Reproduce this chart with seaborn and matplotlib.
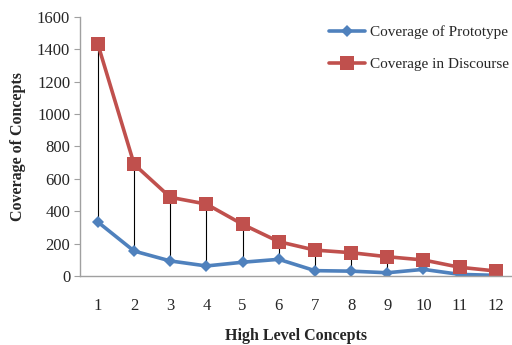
import matplotlib
matplotlib.use("Agg")
import matplotlib.pyplot as plt
import seaborn as sns
import pandas as pd

concepts = list(range(1, 13))
prototype = [333, 154, 93, 62, 85, 103, 33, 30, 20, 41, 10, 4]
discourse = [1430, 690, 486, 444, 319, 212, 160, 144, 119, 99, 54, 31]
series_names = ["Coverage of Prototype", "Coverage in Discourse"]

df = pd.DataFrame({
    "concept": concepts * 2,
    "value": prototype + discourse,
    "series": [series_names[0]] * 12 + [series_names[1]] * 12,
})

sns.set_style("white")
plt.rcParams["font.family"] = ["Liberation Serif", "DejaVu Serif"]

fig = plt.figure(figsize=(5.12, 3.45), dpi=100)
ax = fig.add_axes([0.156, 0.2, 0.844, 0.751])

# high-low lines between the two series
ax.vlines(concepts, prototype, discourse, color="black", linewidth=0.8, zorder=1)

sns.lineplot(data=df, x="concept", y="value", hue="series", style="series",
             palette={series_names[0]: "#4F81BD", series_names[1]: "#C0504D"},
             markers={series_names[0]: "D", series_names[1]: "s"},
             dashes=False, linewidth=2.6, markersize=8, markeredgewidth=0,
             ax=ax, zorder=2)
for ln in ax.lines:
    if ln.get_marker() == "s":
        ln.set_markersize(9.5)
    elif ln.get_marker() == "D":
        ln.set_markersize(6.5)

ax.set_xlim(0.5, 12.45)
ax.set_ylim(0, 1600)
ax.set_xticks(concepts)
ax.set_yticks(range(0, 1601, 200))
ax.tick_params(axis="x", length=0, pad=16, labelsize=12)
ax.tick_params(axis="y", length=4, width=0.8, color="#A0A0A0", direction="out", pad=3, labelsize=12, left=True)
for s in ["top", "right"]:
    ax.spines[s].set_visible(False)
for s in ["left", "bottom"]:
    ax.spines[s].set_color("#A0A0A0")
    ax.spines[s].set_linewidth(1.0)

ax.set_xlabel("High Level Concepts", fontsize=11.5, fontweight="bold", labelpad=10)
ax.set_ylabel("Coverage of Concepts", fontsize=11.5, fontweight="bold", labelpad=8)

leg = ax.legend(loc="upper right", bbox_to_anchor=(1.025, 1.02), frameon=False,
                fontsize=11, handlelength=2.4, handletextpad=0.3, labelspacing=1.2)

fig.savefig("out.png", dpi=100)
